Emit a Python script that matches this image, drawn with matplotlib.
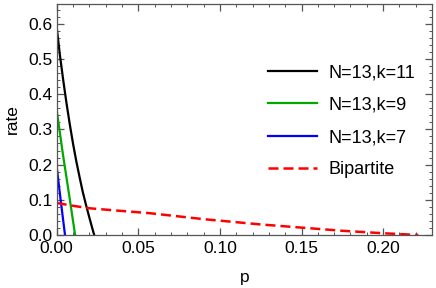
import numpy as np
import matplotlib.pyplot as plt
from matplotlib.ticker import MultipleLocator, FormatStrFormatter

plt.rcParams['font.family'] = ['Liberation Sans', 'DejaVu Sans']

# values
p_k11 = [0.0, 0.002, 0.004, 0.006, 0.008, 0.010, 0.012, 0.014, 0.016, 0.018, 0.020, 0.022, 0.023]
rate_k11 = [0.59, 0.51, 0.44, 0.375, 0.315, 0.26, 0.21, 0.165, 0.122, 0.085, 0.05, 0.016, 0.0]

p_k9 = [0.0, 0.0038, 0.0076, 0.0113]
rate_k9 = [0.355, 0.23, 0.115, 0.0]

p_k7 = [0.0, 0.0025, 0.0051]
rate_k7 = [0.194, 0.097, 0.0]

p_bip = [0.0, 0.01, 0.02, 0.0327, 0.057, 0.09, 0.125, 0.15, 0.175, 0.2, 0.2216]
rate_bip = [0.091, 0.083, 0.076, 0.071, 0.062, 0.045, 0.030, 0.021, 0.012, 0.005, 0.0]

labels = ['N=13,k=11', 'N=13,k=9', 'N=13,k=7', 'Bipartite']

fig = plt.figure(figsize=(4.36, 2.88), dpi=100)
ax = fig.add_axes([0.13, 0.184, 0.861, 0.802])

ax.plot(p_k11, rate_k11, color='black', lw=1.6, label=labels[0])
ax.plot(p_k9, rate_k9, color='#00a800', lw=1.6, label=labels[1])
ax.plot(p_k7, rate_k7, color='#0000ff', lw=1.6, label=labels[2])
ax.plot(p_bip, rate_bip, color='#ff0000', lw=1.8, ls=(0, (4, 2)), label=labels[3])

ax.set_xlim(0, 0.23)
ax.set_ylim(0, 0.656)
ax.xaxis.set_major_locator(MultipleLocator(0.05))
ax.xaxis.set_minor_locator(MultipleLocator(0.01))
ax.yaxis.set_major_locator(MultipleLocator(0.1))
ax.yaxis.set_minor_locator(MultipleLocator(0.02))
ax.xaxis.set_major_formatter(FormatStrFormatter('%.2f'))
ax.yaxis.set_major_formatter(FormatStrFormatter('%.1f'))

for s in ax.spines.values():
    s.set_color('#555555')
    s.set_linewidth(0.9)
ax.tick_params(which='both', direction='in', top=True, right=True,
               color='#555555', labelsize=12.5)
ax.tick_params(which='major', length=5, width=0.9, pad=3)
ax.tick_params(axis='x', which='major', pad=4.5)
ax.tick_params(which='minor', length=2.5, width=0.7)

ax.set_xlabel('p', fontsize=12.5, labelpad=10)
ax.set_ylabel('rate', fontsize=12.5, labelpad=6)

ax.legend(loc='upper left', bbox_to_anchor=(0.545, 0.77), frameon=False,
          fontsize=13, handlelength=2.7, handletextpad=0.6,
          labelspacing=0.85, borderaxespad=0)

fig.savefig('out.png', dpi=100)
